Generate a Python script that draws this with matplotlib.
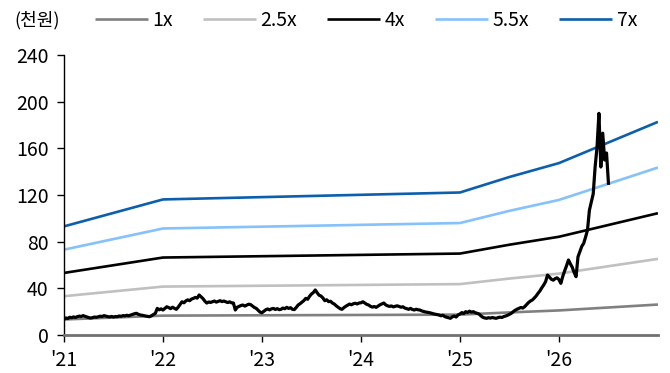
import matplotlib
matplotlib.use('Agg')
import matplotlib.pyplot as plt
import numpy as np

plt.rcParams['font.family'] = ['Noto Sans CJK KR', 'DejaVu Sans']

# Book value per share anchors (천원) used for the PBR bands
bps_years = [2021.0, 2022.0, 2025.0, 2025.5, 2026.0, 2027.0]
bps_values = [13.3, 16.6, 17.45, 19.35, 21.05, 26.1]

band_multiples = [1, 2.5, 4, 5.5, 7]
band_labels = ['1x', '2.5x', '4x', '5.5x', '7x']
band_colors = ['#808080', '#c0c0c0', '#000000', '#85c1fb', '#0b5fad']

# Weekly share price (천원) from Jan 2021
price = [
    # 2021
    13.4, 14.6, 14.1, 15.2, 14.8, 15.5, 15.0, 15.7, 16.2, 15.8,
    16.6, 16.0, 15.3, 14.9, 14.5, 14.9, 15.4, 15.2, 15.6, 16.1,
    15.8, 16.6, 16.2, 15.7, 15.5, 15.9, 15.4, 15.8, 15.7, 16.3,
    16.0, 16.6, 16.4, 16.9, 16.5, 17.1, 17.6, 18.2, 18.6, 17.8,
    17.2, 16.9, 16.6, 16.2, 15.9, 15.7, 16.5, 17.6, 18.6, 22.8,
    21.6, 22.4,
    # 2022
    21.4, 22.8, 24.2, 23.5, 22.6, 23.8, 22.9, 22.0, 23.9, 26.2,
    28.5, 27.6, 29.2, 30.1, 29.4, 30.8, 31.4, 32.2, 31.6, 34.3,
    32.8, 31.2, 29.0, 27.4, 28.3, 27.9, 28.5, 29.1, 28.2, 28.8,
    29.4, 28.6, 29.1, 28.5, 27.8, 28.4, 27.6, 27.4, 21.4, 23.8,
    24.6, 25.3, 25.7, 24.8, 25.6, 26.4, 26.1, 24.9, 23.6, 22.8,
    21.2, 19.6,
    # 2023
    19.1, 20.4, 21.6, 22.3, 21.5, 22.4, 22.8, 21.9, 22.6, 21.7,
    22.0, 23.1, 22.5, 23.7, 22.8, 23.4, 22.0, 21.8, 23.6, 25.7,
    26.8, 28.1, 29.5, 31.4, 30.6, 33.2, 35.1, 36.4, 38.6, 36.2,
    34.1, 33.4, 31.8, 29.4, 30.2, 28.6, 28.9, 27.4, 26.5, 25.0,
    23.8, 22.6, 22.0, 23.4, 24.6, 25.5, 26.5, 25.9, 26.8, 27.2,
    26.6, 27.4,
    # 2024
    27.6, 28.5, 27.4, 26.3, 25.7, 24.6, 23.9, 24.4, 23.7, 24.8,
    25.9, 26.6, 27.4, 25.8, 25.0, 24.5, 24.9, 24.1, 24.6, 25.0,
    24.5, 23.8, 24.2, 23.1, 22.6, 22.0, 22.8, 21.9, 21.4, 22.1,
    21.6, 21.4, 20.6, 20.1, 19.7, 19.4, 19.1, 18.7, 18.2, 17.8,
    17.5, 17.1, 16.5, 16.9, 15.8, 15.2, 14.8, 14.3, 15.6, 16.2,
    15.4, 17.2,
    # 2025
    18.0, 19.2, 18.4, 20.0, 19.3, 20.4, 19.6, 20.0, 19.1, 18.6,
    18.0, 16.4, 15.2, 14.6, 14.3, 14.8, 14.5, 15.0, 14.6, 14.3,
    14.9, 15.3, 15.0, 15.8, 16.3, 16.9, 17.8, 18.6, 20.0, 21.2,
    22.1, 22.8, 23.6, 23.1, 24.3, 26.0, 27.8, 29.1, 30.0, 31.6,
    33.4, 35.7, 37.8, 40.5, 42.9, 45.8, 51.4, 49.6, 47.8, 47.0,
    48.3, 49.0,
    # 2026
    47.5, 44.3, 50.2, 55.0, 59.4, 64.3, 61.0, 58.0, 53.5, 50.0,
    67.0, 71.5, 76.0, 78.6, 84.0, 90.0, 107.0, 114.0, 121.0, 144.0,
    161.0, 190.0, 144.0, 173.0, 150.0, 156.0, 130.0,
]

year_ticks = [2021, 2022, 2023, 2024, 2025, 2026]
year_labels = ["'21", "'22", "'23", "'24", "'25", "'26"]
y_ticks = [0, 40, 80, 120, 160, 200, 240]

fig = plt.figure(figsize=(6.7, 3.73), dpi=100)
ax = fig.add_axes([0.0955, 0.1019, 0.8865, 0.7506])

# PBR band lines
bps = np.array(bps_values)
for mult, label, color in zip(band_multiples, band_labels, band_colors):
    ax.plot(bps_years, bps * mult, color=color, lw=1.9, label=label,
            solid_capstyle='butt')

# Price line on top
price_x = 2021 + np.arange(len(price)) / 52
ax.plot(price_x, price, color='black', lw=2.3, zorder=5)

ax.set_xlim(2021, 2027)
ax.set_ylim(0, 240)
ax.set_xticks(year_ticks)
ax.set_xticklabels(year_labels)
ax.set_yticks(y_ticks)

for side in ['top', 'right']:
    ax.spines[side].set_visible(False)
ax.spines['left'].set_color('black')
ax.spines['left'].set_linewidth(1.0)
ax.spines['bottom'].set_color('#707070')
ax.spines['bottom'].set_linewidth(2.0)
ax.tick_params(axis='y', direction='out', length=5, width=1, color='black',
               labelsize=14, pad=6)
ax.tick_params(axis='x', direction='out', length=5, width=1, color='black',
               labelsize=14, pad=6)

fig.text(0.022, 0.945, '(천원)', fontsize=13, va='center', ha='left')

fig.legend(loc='center left', bbox_to_anchor=(0.142, 0.945), ncol=5,
           frameon=False, fontsize=14, handlelength=2.7, handletextpad=0.25,
           columnspacing=1.55, borderpad=0, borderaxespad=0)

plt.savefig('out.png', dpi=100, facecolor='white')
